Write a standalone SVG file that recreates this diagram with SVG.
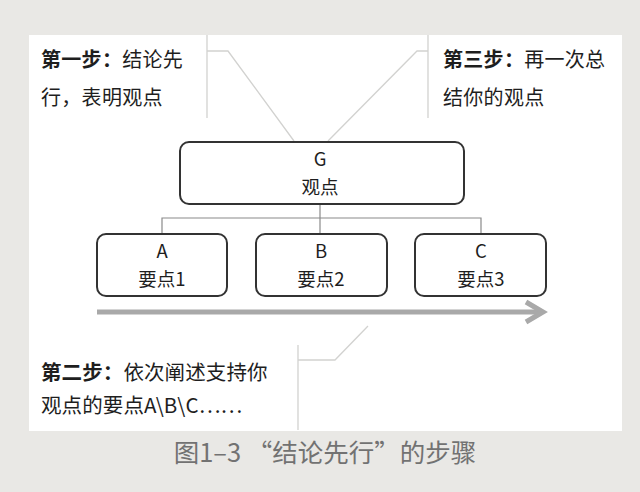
<svg xmlns="http://www.w3.org/2000/svg" width="640" height="492" viewBox="0 0 640 492">
<style>
.t{font-family:"Noto Sans CJK SC","Liberation Sans",sans-serif;font-size:20px;letter-spacing:0.3px;fill:#1e1e1e}
.t2{font-family:"Noto Sans CJK SC","Liberation Sans",sans-serif;font-size:20.5px;letter-spacing:0.1px;fill:#1e1e1e}
.b{font-weight:bold}
.n{font-family:"Noto Sans CJK SC","Liberation Sans",sans-serif;font-size:18.5px;fill:#1e1e1e;text-anchor:middle}
.box{fill:#fff;stroke:#333;stroke-width:2}
.con{fill:none;stroke:#8a8a8a;stroke-width:1.2}
.guide{fill:none;stroke:#d2d2d0;stroke-width:1.3}
</style>
<rect x="0" y="0" width="640" height="492" fill="#e9e8e5"/>
<rect x="29" y="35" width="593" height="396" fill="#fff"/>
<g id="guides">
<line class="guide" x1="207" y1="35" x2="207" y2="118"/>
<line class="guide" x1="428" y1="35" x2="428" y2="118"/>
<polyline class="guide" points="207,51 228,51 294,141"/>
<polyline class="guide" points="428,51 417,51 328,141"/>
<line class="guide" x1="298" y1="345" x2="298" y2="430"/>
<polyline class="guide" points="298,360 335,360 368,326"/>
</g>
<g id="step1">
<text class="t" x="41" y="67"><tspan class="b">第一步：</tspan>结论先</text>
<text class="t" x="41" y="105">行，表明观点</text>
</g>
<g id="step3">
<text class="t" x="443" y="67"><tspan class="b">第三步：</tspan>再一次总</text>
<text class="t" x="443" y="105">结你的观点</text>
</g>
<g id="step2">
<text class="t2" x="41" y="380"><tspan class="b">第二步：</tspan>依次阐述支持你</text>
<text class="t2" x="41" y="413">观点的要点A\B\C……</text>
</g>
<g id="connectors">
<polyline class="con" points="320,204 320,218"/>
<polyline class="con" points="162,234 162,218 481,218 481,234"/>
<line class="con" x1="320" y1="218" x2="320" y2="234"/>
<line x1="97" y1="312" x2="541" y2="312" stroke="#a9a9a9" stroke-width="5"/>
<polyline points="526,302 543,312 526,322" fill="none" stroke="#a9a9a9" stroke-width="5"/>
</g>
<g id="G">
<rect class="box" x="180" y="142" width="284" height="62" rx="9"/>
<text class="n" x="320" y="166">G</text>
<text class="n" x="320" y="194">观点</text>
</g>
<g id="A">
<rect class="box" x="97" y="234" width="130" height="62" rx="9"/>
<text class="n" x="162" y="258">A</text>
<text class="n" x="162" y="286">要点1</text>
</g>
<g id="B">
<rect class="box" x="256" y="234" width="131" height="62" rx="9"/>
<text class="n" x="321" y="258">B</text>
<text class="n" x="321" y="286">要点2</text>
</g>
<g id="C">
<rect class="box" x="415" y="234" width="131" height="62" rx="9"/>
<text class="n" x="481" y="258">C</text>
<text class="n" x="481" y="286">要点3</text>
</g>
<text x="325" y="462" font-family="Noto Sans CJK SC, Liberation Sans, sans-serif" font-size="25.5" fill="#727272" text-anchor="middle">图1–3 “结论先行”的步骤</text>
</svg>
